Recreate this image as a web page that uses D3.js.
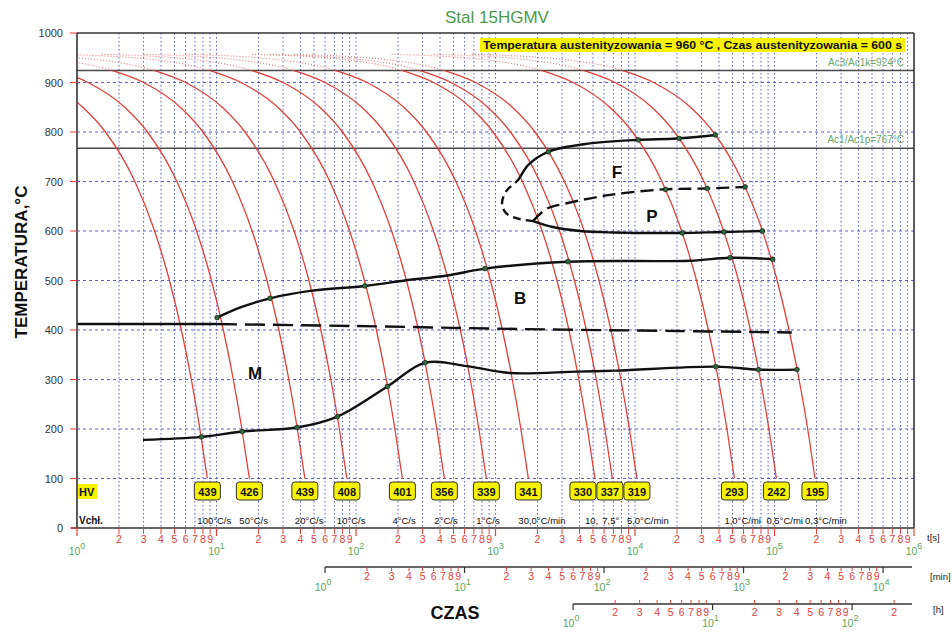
<!DOCTYPE html>
<html><head><meta charset="utf-8">
<script src="https://cdn.jsdelivr.net/npm/d3@7"></script>
<style>body{margin:0;background:#fff}svg{display:block}text{font-family:Arial,"Liberation Sans",sans-serif}</style>
</head><body><svg id="c" width="952" height="634"></svg>
<script>
// ---------------- DATA ----------------
const coolTemps = [957, 945, 924, 900, 850, 800, 700, 600, 500, 400, 300, 200, 100];
const coolTimes = [
  [0.03, 0.15, 0.36, 0.6, 1.1, 1.6, 2.6, 3.6, 4.6, 5.6, 6.6, 7.6, 8.6],
  [0.06, 0.3, 0.72, 1.2, 2.2, 3.2, 5.2, 7.2, 9.2, 11.2, 13.2, 15.2, 17.2],
  [0.15, 0.75, 1.8, 3, 5.5, 8, 13, 18, 23, 28, 33, 38, 43],
  [0.3, 1.5, 3.6, 6, 11, 16, 26, 36, 46, 56, 66, 76, 86],
  [0.75, 3.8, 9, 15, 27.5, 40, 65, 90, 115, 140, 165, 190, 215],
  [1.5, 7.5, 18, 30, 55, 80, 130, 180, 230, 280, 330, 380, 430],
  [3, 15, 36, 60, 110, 160, 260, 360, 460, 560, 660, 760, 860],
  [6, 30, 72, 120, 220, 320, 520, 720, 920, 1120, 1320, 1520, 1720],
  [18, 90, 216, 360, 660, 960, 1560, 2160, 2760, 3360, 3960, 4560, 5160],
  [24, 120, 288, 480, 880, 1280, 2080, 2880, 3680, 4480, 5280, 6080, 6880],
  [36, 180, 432, 720, 1320, 1920, 3120, 4320, 5520, 6720, 7920, 9120, 10320],
  [180, 900, 2160, 3600, 6600, 9600, 15600, 21600, 27600, 33600, 39600, 45600, 51600],
  [360, 1800, 4320, 7200, 13200, 19200, 31200, 43200, 55200, 67200, 79200, 91200, 103200],
  [680, 3400, 8200, 13600, 25000, 36400, 59000, 82000, 104500, 127000, 150000, 173000, 195000]
];
const rateLabels = ["100°C/s","50°C/s","20°C/s","10°C/s","4°C/s","2°C/s","1°C/s","30,0°C/min",
  "10,0°C/min","7,5°C/min","5,0°C/min","1,0°C/min","0,5°C/min","0,3°C/min"];
const hvValues = [439, 426, 439, 408, 401, 356, 339, 341, 330, 337, 319, 293, 242, 195];

const fStart  = [[38400,794],[19900,787],[10280,784],[4760,777],[2380,760],[1710,733],[1450,703],[1190,680],[1114,655],[1190,636],[1450,625],[1857,620]];
const fSplitT = 703;
const pStart  = [[1857,620],[2330,645],[3240,656],[6620,673],[15900,684],[32800,686],[62500,689]];
const pFinish = [[1857,620],[2580,608],[4040,600],[6950,597],[21000,596],[42000,598],[85500,600]];
const bStart  = [[10.1,425],[15,446],[24.2,464],[47,479],[116,489],[224,500],[450,510],[841,524],[3310,538],[24800,540],[48000,546],[97000,543]];
const msSolid  = [[1,412],[10.1,412]];
const msDashed = [[10.1,412],[100,408],[1500,402],[20000,398],[133000,395]];
const bFinish = [[2.97,178],[7.8,184],[15.3,195],[37.8,203],[73.5,225],[168,286],[313,334],[625,327],[1270,313],[3840,316],[7430,318],[38000,326],[76800,320],[145000,320]];
const dots = [[10.1,425],[24.2,464],[116,489],[841,524],[3310,538],[48000,546],[97000,543],
  [7.8,184],[15.3,195],[37.8,203],[73.5,225],[168,286],[313,334],[38000,326],[76800,320],[145000,320],
  [2400,760],[10560,784],[20760,787],[37700,794],
  [16560,684],[32900,686],[61600,689],
  [21840,596],[43440,598],[81800,600]];
const regionLabels = ["F","P","B","M"];
const regionPos = [[7430,719],[13240,630],[1500,465],[18.9,313]];
const yTicks = [0,100,200,300,400,500,600,700,800,900,1000];
const acTemps = [924, 767];
const acLabels = ["Ac3/Ac1k=924°C","Ac1/Ac1p=767°C"];
const titleText = "Stal 15HGMV";
const infoText = "Temperatura austenityzowania = 960 °C , Czas austenityzowania = 600 s";

// ---------------- SCALES ----------------
const L = 77, R = 914, T0 = 33, B0 = 528;
const x = d3.scaleLog().domain([1, 1e6]).range([L, R]);
const y = d3.scaleLinear().domain([0, 1000]).range([B0, T0]);
const xMin = d3.scaleLog().domain([1, 1e6/60]).range([x(60), R]);
const xH = d3.scaleLog().domain([1, 1e6/3600]).range([x(3600), R]);

const svg = d3.select("#c");
const defs = svg.append("defs");
function clipRect(id, x0, y0, w, h) {
  defs.append("clipPath").attr("id", id).append("rect").attr("x", x0).attr("y", y0).attr("width", w).attr("height", h);
}
clipRect("plot", L, T0, R-L, B0-T0);
clipRect("solid", L, y(924), R-L, B0-y(924));
clipRect("dots", L, T0, R-L, y(924)-T0);
clipRect("fsolid", L, T0, R-L, y(fSplitT)-T0);
clipRect("fdash", L, y(fSplitT), R-L, B0-y(fSplitT));

const gridBlue = "#5a63c8";
const red = "#e2403a";
const green = "#5aa55a";

// ---------------- GRID ----------------
const sTicks = x.ticks();
svg.append("g").selectAll("line").data(sTicks.filter(t => t > 1 && t < 1e6)).join("line")
  .attr("x1", d => x(d)).attr("x2", d => x(d)).attr("y1", T0).attr("y2", B0)
  .attr("stroke", gridBlue).attr("stroke-width", 1).attr("stroke-dasharray", "1.5,2.5");
svg.append("g").selectAll("line").data(yTicks.filter(v => v > 0 && v < 1000)).join("line")
  .attr("x1", L).attr("x2", R).attr("y1", d => y(d)).attr("y2", d => y(d))
  .attr("stroke", gridBlue).attr("stroke-width", 1).attr("stroke-dasharray", "3,3");

// Ac lines
svg.append("g").selectAll("line").data(acTemps).join("line")
  .attr("x1", L).attr("x2", R).attr("y1", d => y(d)).attr("y2", d => y(d))
  .attr("stroke", "#4a4a4a").attr("stroke-width", 1.5);
svg.append("g").selectAll("text").data(acLabels).join("text")
  .attr("x", 904).attr("y", (d,i) => y(acTemps[i]) - 5).attr("text-anchor","end")
  .attr("font-size", 10).attr("fill", "#6aa86a").text(d => d);

// ---------------- COOLING CURVES ----------------
const line = d3.line().x(d => x(d[0])).y(d => y(d[1])).curve(d3.curveMonotoneX);
const curveData = coolTimes.map(ts => ts.map((t,i) => [t, coolTemps[i]]));
const gc = svg.append("g").attr("clip-path","url(#plot)");
gc.append("g").attr("clip-path","url(#dots)").selectAll("path").data(curveData).join("path")
  .attr("d", line).attr("fill","none").attr("stroke", "#e87a74").attr("stroke-width", 1.1).attr("stroke-dasharray","1,2");
gc.append("g").attr("clip-path","url(#solid)").selectAll("path").data(curveData).join("path")
  .attr("d", line).attr("fill","none").attr("stroke", red).attr("stroke-width", 1.3);

// ---------------- TRANSFORMATION LINES ----------------
const tline = d3.line().x(d => x(d[0])).y(d => y(d[1])).curve(d3.curveCatmullRom.alpha(0.5));
const gt = svg.append("g").attr("clip-path","url(#plot)").attr("fill","none").attr("stroke","#111").attr("stroke-width",2.4);
gt.append("g").attr("clip-path","url(#fsolid)").append("path").attr("d", tline(fStart));
gt.append("g").attr("clip-path","url(#fdash)").append("path").attr("d", tline(fStart)).attr("stroke-dasharray","8,5");
gt.append("path").attr("d", tline(pStart)).attr("stroke-dasharray","13,6");
gt.append("path").attr("d", tline(pFinish));
gt.append("path").attr("d", tline(bStart));
gt.append("path").attr("d", tline(msSolid));
gt.append("path").attr("d", tline(msDashed)).attr("stroke-dasharray","20,8");
gt.append("path").attr("d", tline(bFinish));

svg.append("g").selectAll("circle").data(dots).join("circle")
  .attr("cx", d => x(d[0])).attr("cy", d => y(d[1])).attr("r", 2.4)
  .attr("fill", "#2e6a3c").attr("stroke", "#111").attr("stroke-width", 0.6);

svg.append("g").selectAll("text").data(regionLabels).join("text")
  .attr("x", (d,i) => x(regionPos[i][0])).attr("y", (d,i) => y(regionPos[i][1]) + 6)
  .attr("text-anchor","middle").attr("font-size", 17).attr("font-weight","bold").attr("fill","#111").text(d => d);

// ---------------- FRAME ----------------
const frame = svg.append("g").attr("stroke","#333").attr("stroke-width",1.6);
frame.append("line").attr("x1",L).attr("x2",L).attr("y1",T0).attr("y2",B0);
frame.append("line").attr("x1",R).attr("x2",R).attr("y1",T0).attr("y2",B0);
frame.append("line").attr("x1",L).attr("x2",R).attr("y1",T0).attr("y2",T0);
frame.append("line").attr("x1",L-6).attr("x2",R).attr("y1",B0).attr("y2",B0);

// Y axis ticks + labels
svg.append("g").selectAll("line").data(yTicks).join("line")
  .attr("x1", L-7).attr("x2", L).attr("y1", d => y(d)).attr("y2", d => y(d)).attr("stroke", red).attr("stroke-width",1);
svg.append("g").selectAll("text").data(yTicks).join("text")
  .attr("x", 63).attr("y", d => y(d) + 4).attr("text-anchor","end").attr("font-size", 11).attr("fill","#333").text(d => d);
svg.append("text").attr("transform","translate(27,262) rotate(-90)").attr("text-anchor","middle")
  .attr("font-size",17).attr("font-weight","bold").attr("fill","#111").text("TEMPERATURA,°C");

// ---------------- HV & Vchł ROW ----------------
const endX = coolTimes.map(ts => x(ts[ts.length-1]));
const boxW = 26, boxStep = 27;
const boxX = endX.slice();
for (let i = boxX.length - 2; i >= 0; i--) if (boxX[i] > boxX[i+1] - boxStep) boxX[i] = boxX[i+1] - boxStep;
const hvG = svg.append("g");
hvG.selectAll("rect").data(hvValues).join("rect")
  .attr("x", (d,i) => boxX[i] - boxW/2).attr("y", 482).attr("width", boxW).attr("height", 18).attr("rx", 3)
  .attr("fill", "#f6f200").attr("stroke", "#333").attr("stroke-width", 1);
hvG.selectAll("text").data(hvValues).join("text")
  .attr("x", (d,i) => boxX[i]).attr("y", 495.5).attr("text-anchor","middle")
  .attr("font-size", 11).attr("font-weight","bold").attr("fill","#111").text(d => d);

svg.append("rect").attr("x",78).attr("y",484).attr("width",19).attr("height",15).attr("fill","#f6f200");
svg.append("text").attr("x",79).attr("y",496).attr("font-size",11).attr("font-weight","bold").attr("fill","#111").text("HV");
svg.append("text").attr("x",79).attr("y",524).attr("font-size",10).attr("font-weight","bold").attr("fill","#111").text("Vchł.");

// cooling-rate labels, cut short where the next label starts (as in the original)
const labStart = endX.map(v => v - 10);
rateLabels.forEach((s, i) => {
  const maxW = i < rateLabels.length - 1 ? labStart[i+1] - labStart[i] - 1 : 80;
  const t = svg.append("text").attr("x", labStart[i]).attr("y", 524).attr("font-size", 9.5).attr("fill","#111").text(s);
  let str = s;
  while (str.length > 1 && t.node().getComputedTextLength() > maxW) { str = str.slice(0, -1); t.text(str); }
});

// ---------------- BOTTOM AXES ----------------
const fmtDigit = t => { const e = Math.floor(Math.log10(t) + 1e-9); return Math.round(t / Math.pow(10, e)); };
function logAxis(scale, ticks, yLine, opts) {
  const g = svg.append("g");
  ticks.forEach(t => {
    const d = fmtDigit(t), xp = scale(t);
    if (d === 1) {
      g.append("line").attr("x1",xp).attr("x2",xp).attr("y1",yLine + opts.majorY1).attr("y2",yLine + opts.majorY2).attr("stroke",opts.majorColor).attr("stroke-width",1.2);
      const e = Math.round(Math.log10(t));
      const tx = g.append("text").attr("x", xp + opts.decDx).attr("y", yLine + opts.decY).attr("text-anchor","middle").attr("fill", green).attr("font-size", 10.5);
      tx.append("tspan").text("10");
      tx.append("tspan").attr("dy",-6).attr("font-size",9).text(e);
    } else {
      g.append("line").attr("x1",xp).attr("x2",xp).attr("y1",yLine + opts.minorY1).attr("y2",yLine + opts.minorY2).attr("stroke",red).attr("stroke-width",1);
      g.append("text").attr("x", xp).attr("y", yLine + opts.digitY).attr("text-anchor","middle").attr("fill", red).attr("font-size", 10.5).text(d);
    }
  });
  return g;
}
logAxis(x, sTicks, B0, {majorY1:0, majorY2:8, majorColor:red, minorY1:0, minorY2:6, digitY:15, decY:27, decDx:0});

svg.append("line").attr("x1", xMin(1)).attr("x2", 912).attr("y1", 567).attr("y2", 567).attr("stroke","#333").attr("stroke-width",1.5);
logAxis(xMin, xMin.ticks().filter(t => t <= 1e4), 567, {majorY1:0, majorY2:6, majorColor:"#333", minorY1:0, minorY2:4, digitY:13, decY:24, decDx:-2});
svg.append("line").attr("x1", xH(1)).attr("x2", 912).attr("y1", 604).attr("y2", 604).attr("stroke","#333").attr("stroke-width",1.5);
logAxis(xH, xH.ticks().filter(t => t <= 200), 604, {majorY1:0, majorY2:6, majorColor:"#333", minorY1:-4, minorY2:0, digitY:12, decY:23, decDx:-2});

svg.append("text").attr("x", 927).attr("y", 541).attr("font-size", 9.5).attr("fill","#222").text("t[s]");
svg.append("text").attr("x", 930).attr("y", 580).attr("font-size", 9.5).attr("fill","#222").text("[min]");
svg.append("text").attr("x", 933).attr("y", 613).attr("font-size", 9.5).attr("fill","#222").text("[h]");
svg.append("text").attr("x", 455).attr("y", 619).attr("text-anchor","middle").attr("font-size", 18).attr("font-weight","bold").attr("fill","#111").text("CZAS");

// ---------------- TITLE & INFO ----------------
svg.append("text").attr("x", 497).attr("y", 23).attr("text-anchor","middle").attr("font-size", 17).attr("fill", "#4a9a4a").text(titleText);
svg.append("rect").attr("x", 480).attr("y", 38).attr("width", 425).attr("height", 14).attr("fill", "#f6f200");
svg.append("text").attr("x", 483).attr("y", 49).attr("font-size", 10.5).attr("font-weight","bold").attr("fill","#111")
  .attr("textLength", 419).attr("lengthAdjust","spacingAndGlyphs").text(infoText);
</script></body></html>
